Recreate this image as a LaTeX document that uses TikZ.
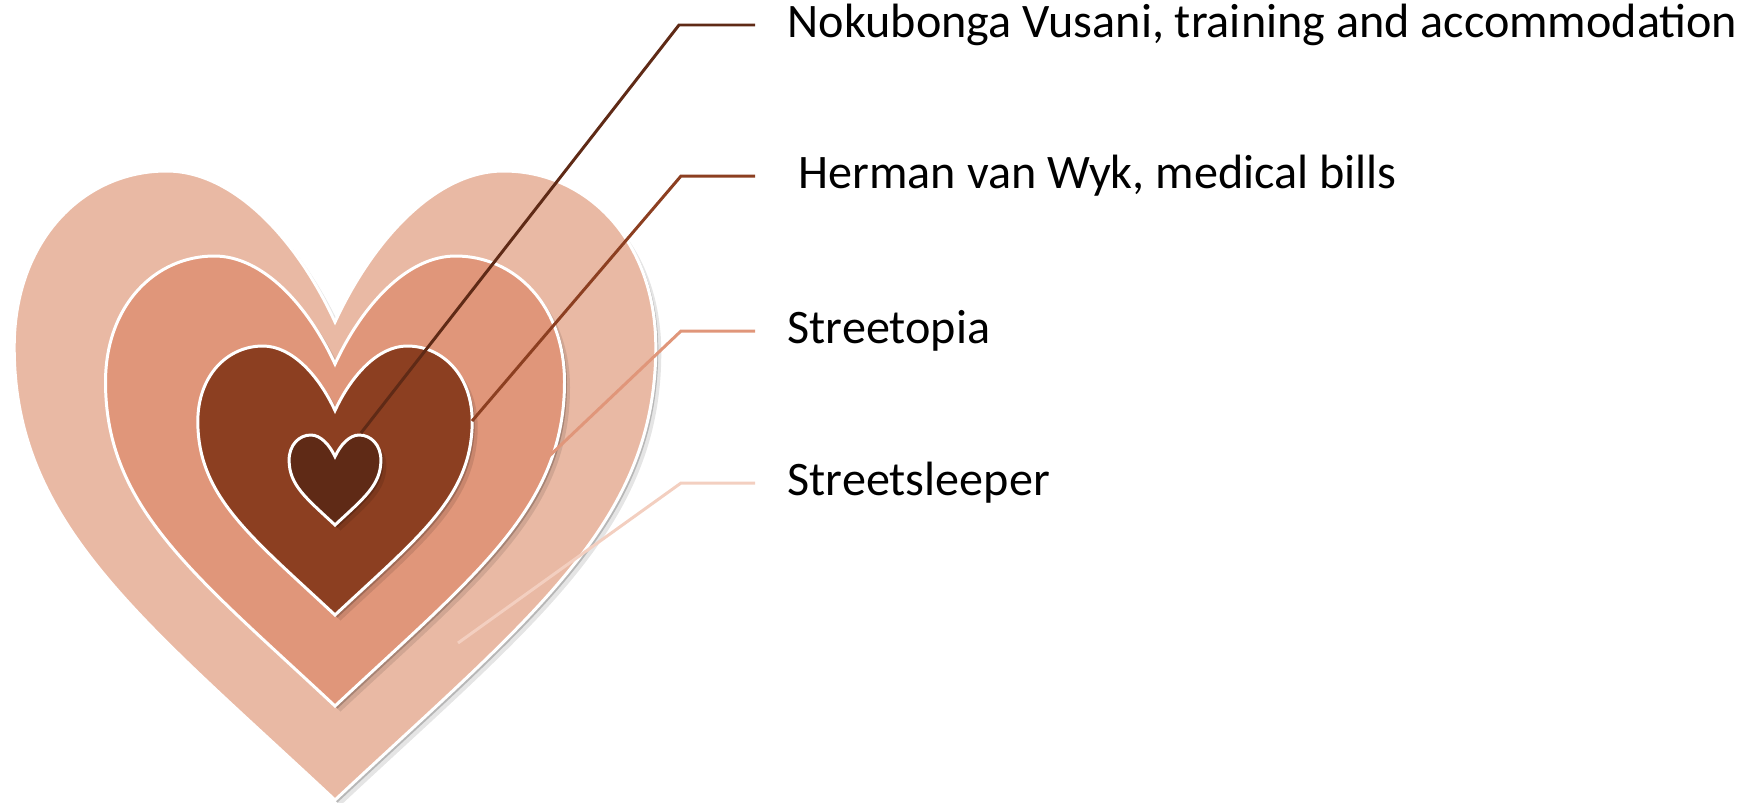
\documentclass[tikz,border=0pt]{standalone}
\usepackage{fontspec}
\setmainfont{Carlito}
\usepackage{tikz}
\usetikzlibrary{calc}

\definecolor{sleeper}{HTML}{E9B9A4}
\definecolor{topia}{HTML}{E0967A}
\definecolor{herman}{HTML}{8C3F21}
\definecolor{vusani}{HTML}{5F2A16}
\definecolor{sleeperline}{HTML}{F3CFC0}

% unit heart, tip at the origin, height 1
\newcommand{\heartpath}{(0,0) .. controls (0.31,0.29) and (0.51,0.44) .. (0.51,0.72)
  .. controls (0.51,0.89) and (0.40,1.0) .. (0.268,1.0)
  .. controls (0.16,1.0) and (0.06,0.89) .. (0,0.76)
  .. controls (-0.06,0.89) and (-0.16,1.0) .. (-0.268,1.0)
  .. controls (-0.40,1.0) and (-0.51,0.89) .. (-0.51,0.72)
  .. controls (-0.51,0.44) and (-0.31,0.29) .. (0,0) -- cycle}

\begin{document}
\begin{tikzpicture}[
  heart/.style={draw=white, line width=0.85pt,
    preaction={fill=black, opacity=0.10, transform canvas={shift={(0.055,-0.055)}}},
    preaction={fill=black, opacity=0.20, transform canvas={shift={(0.025,-0.025)}}}},
  lead/.style={line width=0.85pt},
  lbl/.style={anchor=west, inner xsep=0.32cm, font=\fontsize{13.7}{16}\selectfont}]
\useasboundingbox (0,0) rectangle (17.62,-8.02);

\path[heart, fill=sleeper, shift={(3.35,-8.00)}, scale=6.29] \heartpath;
\path[heart, fill=topia, shift={(3.35,-7.06)}, scale=4.50] \heartpath;
\path[heart, fill=herman, shift={(3.35,-6.15)}, scale=2.69] \heartpath;
\path[heart, fill=vusani, shift={(3.35,-5.25)}, scale=0.90] \heartpath;

\coordinate (n1) at (3.61,-4.33);
\coordinate (n2) at (4.72,-4.21);
\coordinate (n3) at (5.44,-4.61);
\coordinate (n4) at (4.58,-6.43);

\coordinate (k1) at (6.79,-0.25);
\coordinate (k2) at (6.81,-1.76);
\coordinate (k3) at (6.81,-3.31);
\coordinate (k4) at (6.81,-4.83);

\node[lbl] (t1) at (7.55,-0.25) {Nokubonga Vusani, training and accommodation};
\node[lbl] (t2) at (7.55,-1.76) {\ Herman van Wyk, medical bills};
\node[lbl] (t3) at (7.55,-3.31) {Streetopia};
\node[lbl] (t4) at (7.55,-4.83) {Streetsleeper};

\draw[lead, vusani] (n1) -- (k1) -- (t1.west);
\draw[lead, herman] (n2) -- (k2) -- (t2.west);
\draw[lead, topia] (n3) -- (k3) -- (t3.west);
\draw[lead, sleeperline] (n4) -- (k4) -- (t4.west);
\end{tikzpicture}
\end{document}
